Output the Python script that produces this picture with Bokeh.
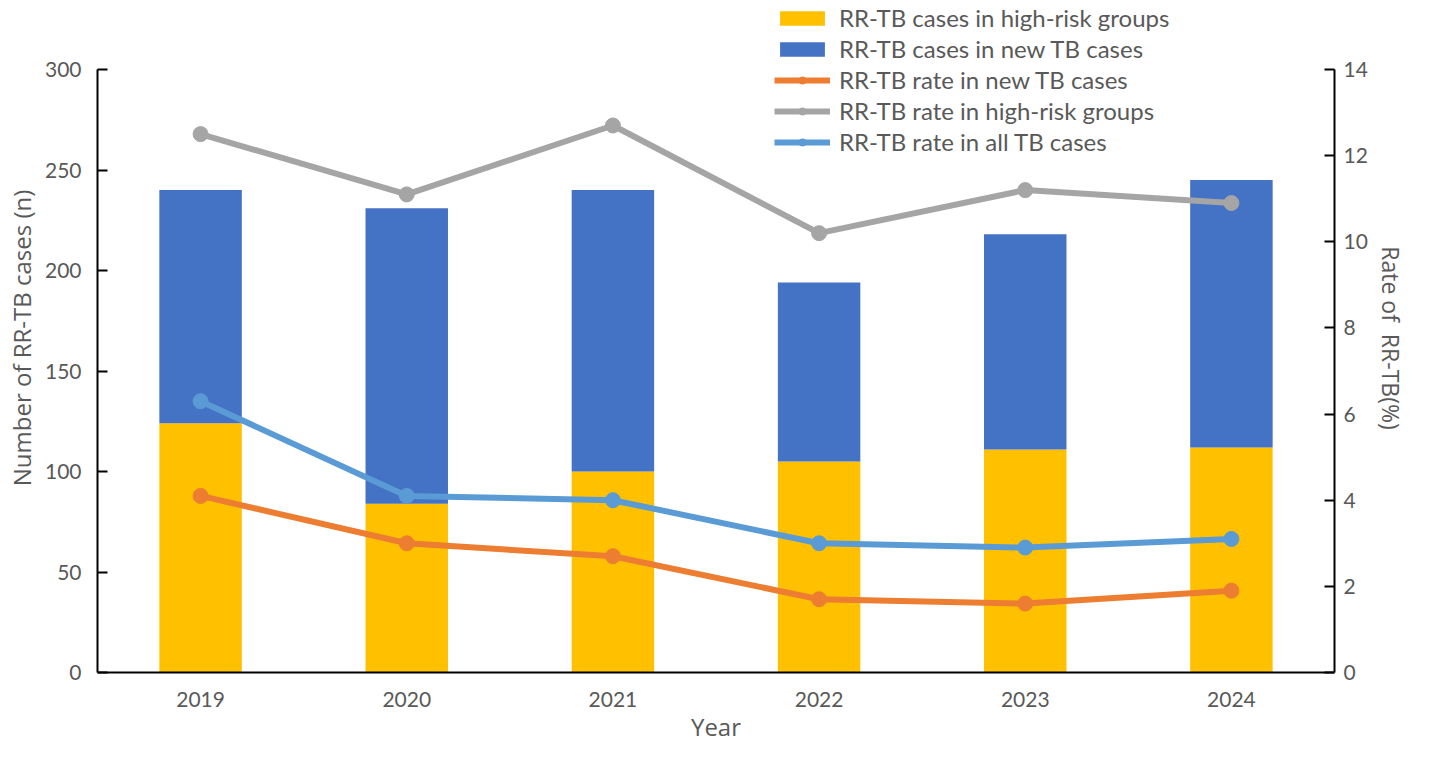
from bokeh.plotting import figure
from bokeh.models import (FactorRange, Range1d, LinearAxis, FixedTicker,
                          Legend, LegendItem, ColumnDataSource)
from bokeh.embed import file_html
from bokeh.resources import INLINE

years = ["2019", "2020", "2021", "2022", "2023", "2024"]
cases_high_risk = [124, 84, 100, 105, 111, 112]
cases_new_tb = [116, 147, 140, 89, 107, 133]
rate_new_tb = [4.1, 3.0, 2.7, 1.7, 1.6, 1.9]
rate_high_risk = [12.5, 11.1, 12.7, 10.2, 11.2, 10.9]
rate_all_tb = [6.3, 4.1, 4.0, 3.0, 2.9, 3.1]
left_ticks = [0, 50, 100, 150, 200, 250, 300]
right_ticks = [0, 2, 4, 6, 8, 10, 12, 14]
LEFT_MAX = 300
RIGHT_MAX = 14

C_YEL = "#FFC000"
C_BLUE = "#4472C4"
C_ORA = "#ED7D31"
C_GREY = "#A5A5A5"
C_LBLUE = "#5B9BD5"
TXT = "#595959"
TICK_FONT = "Lato"
TITLE_FONT = "Open Sans"

# layout (pixels): frame spans from top border to bottom border; the axes
# themselves only cover 0..max, leaving room at the top for the legend
W, H = 1414, 746
B_LEFT, B_RIGHT, B_TOP, B_BOTTOM = 97, 80, 3, 74
AXIS_TOP_PX = 69          # pixel row where the axis maximum sits
frame_h = H - B_TOP - B_BOTTOM
scale_h = (H - B_BOTTOM - AXIS_TOP_PX) / frame_h
left_end = LEFT_MAX / scale_h
right_end = RIGHT_MAX / scale_h

src = ColumnDataSource(dict(year=years, high=cases_high_risk, new=cases_new_tb,
                            r_new=rate_new_tb, r_high=rate_high_risk, r_all=rate_all_tb))

p = figure(width=W, height=H, output_backend="svg", toolbar_location=None,
           x_range=FactorRange(*years, range_padding=0), y_range=Range1d(0, left_end),
           min_border_left=B_LEFT, min_border_right=B_RIGHT,
           min_border_top=B_TOP, min_border_bottom=B_BOTTOM)
p.extra_y_ranges = {"rate": Range1d(0, right_end)}
p.outline_line_color = None
p.xgrid.grid_line_color = None
p.ygrid.grid_line_color = None
p.background_fill_color = "white"
p.border_fill_color = "white"

bars = p.vbar_stack(["high", "new"], x="year", width=0.4, source=src,
                    color=[C_YEL, C_BLUE], line_color=None)

lw = 6
ms = 15
l_high = p.line("year", "r_high", source=src, y_range_name="rate", color=C_GREY, line_width=lw)
s_high = p.scatter("year", "r_high", source=src, y_range_name="rate", color=C_GREY, size=ms)
l_new = p.line("year", "r_new", source=src, y_range_name="rate", color=C_ORA, line_width=lw)
s_new = p.scatter("year", "r_new", source=src, y_range_name="rate", color=C_ORA, size=ms)
l_all = p.line("year", "r_all", source=src, y_range_name="rate", color=C_LBLUE, line_width=lw)
s_all = p.scatter("year", "r_all", source=src, y_range_name="rate", color=C_LBLUE, size=ms)

# left axis
ya = p.yaxis[0]
ya.ticker = FixedTicker(ticks=left_ticks)
ya.bounds = (0, LEFT_MAX)
ya.axis_label = "Number of RR-TB cases (n)"

# right axis
ra = LinearAxis(y_range_name="rate", ticker=FixedTicker(ticks=right_ticks),
                bounds=(0, RIGHT_MAX), axis_label="Rate of \u00a0RR-TB(%)")
p.add_layout(ra, "right")

xa = p.xaxis[0]
xa.axis_label = "Year"

for ax in (ya, ra):
    ax.major_tick_in = 10
    ax.major_tick_out = 0
    ax.minor_tick_line_color = None
    ax.major_tick_line_color = "black"
    ax.major_tick_line_width = 2
ya.major_label_standoff = 16
ya.axis_label_standoff = 4
ra.major_label_standoff = 9
ra.axis_label_standoff = 4

xa.major_tick_line_color = None
xa.minor_tick_line_color = None
xa.major_label_standoff = 13
xa.axis_label_standoff = 0

for ax in (ya, ra, xa):
    ax.axis_line_color = "black"
    ax.axis_line_width = 2
    ax.major_label_text_font = TICK_FONT
    ax.major_label_text_font_size = "21px"
    ax.major_label_text_color = TXT
    ax.axis_label_text_font = TITLE_FONT
    ax.axis_label_text_font_size = "24px"
    ax.axis_label_text_font_style = "normal"
    ax.axis_label_text_color = TXT
ra.axis_label_text_font_size = "23px"

legend = Legend(items=[
    LegendItem(label="RR-TB cases in high-risk groups", renderers=[bars[0]]),
    LegendItem(label="RR-TB cases in new TB cases", renderers=[bars[1]]),
    LegendItem(label="RR-TB rate in new TB cases", renderers=[l_new, s_new]),
    LegendItem(label="RR-TB rate in high-risk groups", renderers=[l_high, s_high]),
    LegendItem(label="RR-TB rate in all TB cases", renderers=[l_all, s_all]),
], margin=0)
legend.glyph_width = 56
legend.glyph_height = 18
legend.label_height = 29
legend.spacing = 2
legend.padding = 0
legend.label_standoff = 9
legend.label_text_font = TICK_FONT
legend.label_text_font_size = "24px"
legend.label_text_color = TXT
legend.background_fill_alpha = 0
legend.border_line_color = None
legend.location = (677, frame_h - 153)
p.add_layout(legend, "center")

open("out.html", "w").write(file_html(p, INLINE))
